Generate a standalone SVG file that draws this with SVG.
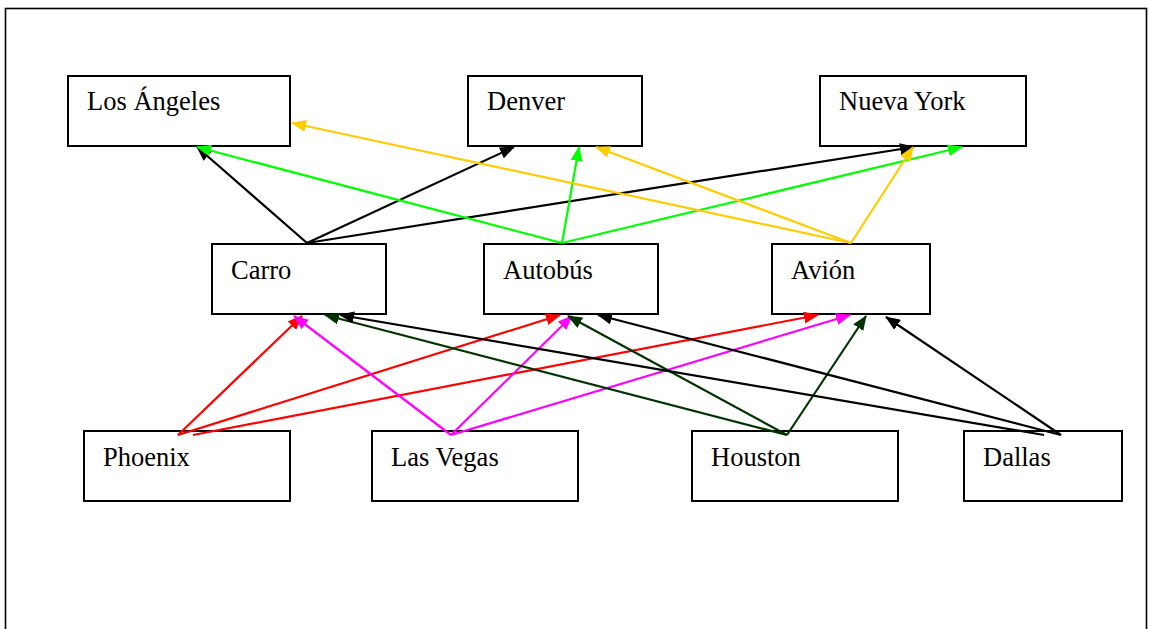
<svg xmlns="http://www.w3.org/2000/svg" width="1150" height="629" viewBox="0 0 1150 629">
<style>
.box{fill:#fff;stroke:#000;stroke-width:2}
.lbl{font-family:"Liberation Serif","Times New Roman",serif;font-size:26.5px;fill:#000}
.e{stroke-width:2.2;fill:none}
.k{stroke:#000}.g{stroke:#00ff00}.y{stroke:#ffcc00}.r{stroke:#ff0000}.m{stroke:#ff00ff}.d{stroke:#003300}
</style>
<defs>
<marker id="ak" markerUnits="userSpaceOnUse" viewBox="0 0 15 12" markerWidth="15" markerHeight="12" refX="14" refY="6" orient="auto"><path d="M0,0 L15,6 L0,12 z" fill="#000"/></marker>
<marker id="ag" markerUnits="userSpaceOnUse" viewBox="0 0 15 12" markerWidth="15" markerHeight="12" refX="14" refY="6" orient="auto"><path d="M0,0 L15,6 L0,12 z" fill="#00ff00"/></marker>
<marker id="ay" markerUnits="userSpaceOnUse" viewBox="0 0 15 12" markerWidth="15" markerHeight="12" refX="14" refY="6" orient="auto"><path d="M0,0 L15,6 L0,12 z" fill="#ffcc00"/></marker>
<marker id="ar" markerUnits="userSpaceOnUse" viewBox="0 0 15 12" markerWidth="15" markerHeight="12" refX="14" refY="6" orient="auto"><path d="M0,0 L15,6 L0,12 z" fill="#ff0000"/></marker>
<marker id="am" markerUnits="userSpaceOnUse" viewBox="0 0 15 12" markerWidth="15" markerHeight="12" refX="14" refY="6" orient="auto"><path d="M0,0 L15,6 L0,12 z" fill="#ff00ff"/></marker>
<marker id="ad" markerUnits="userSpaceOnUse" viewBox="0 0 15 12" markerWidth="15" markerHeight="12" refX="14" refY="6" orient="auto"><path d="M0,0 L15,6 L0,12 z" fill="#003300"/></marker>
</defs>
<rect width="1150" height="629" fill="#fff"/>
<rect x="5.5" y="8.5" width="1141" height="640" fill="none" stroke="#000" stroke-width="1.6"/>

<g id="los-angeles"><rect class="box" x="68" y="76" width="222" height="70"/><text class="lbl" x="87" y="110">Los Ángeles</text></g>
<g id="denver"><rect class="box" x="468" y="76" width="174" height="70"/><text class="lbl" x="487" y="110">Denver</text></g>
<g id="nueva-york"><rect class="box" x="820" y="76" width="206" height="70"/><text class="lbl" x="839" y="110">Nueva York</text></g>
<g id="carro"><rect class="box" x="212" y="244" width="174" height="70"/><text class="lbl" x="231" y="279">Carro</text></g>
<g id="autobus"><rect class="box" x="484" y="244" width="174" height="70"/><text class="lbl" x="503" y="279">Autobús</text></g>
<g id="avion"><rect class="box" x="772" y="244" width="158" height="70"/><text class="lbl" x="791" y="279">Avión</text></g>
<g id="phoenix"><rect class="box" x="84" y="431" width="206" height="70"/><text class="lbl" x="103" y="466">Phoenix</text></g>
<g id="las-vegas"><rect class="box" x="372" y="431" width="206" height="70"/><text class="lbl" x="391" y="466">Las Vegas</text></g>
<g id="houston"><rect class="box" x="692" y="431" width="206" height="70"/><text class="lbl" x="711" y="466">Houston</text></g>
<g id="dallas"><rect class="box" x="964" y="431" width="158" height="70"/><text class="lbl" x="983" y="466">Dallas</text></g>

<g id="connectors">
<line class="e k" x1="307" y1="243" x2="197" y2="147" marker-end="url(#ak)"/>
<line class="e k" x1="307" y1="243" x2="514" y2="147" marker-end="url(#ak)"/>
<line class="e k" x1="307" y1="243" x2="914" y2="147" marker-end="url(#ak)"/>
<line class="e g" x1="562" y1="243" x2="197" y2="147" marker-end="url(#ag)"/>
<line class="e g" x1="562" y1="243" x2="579" y2="147" marker-end="url(#ag)"/>
<line class="e g" x1="562" y1="243" x2="962" y2="147" marker-end="url(#ag)"/>
<line class="e y" x1="851" y1="243" x2="292" y2="123" marker-end="url(#ay)"/>
<line class="e y" x1="851" y1="243" x2="596" y2="147" marker-end="url(#ay)"/>
<line class="e y" x1="851" y1="243" x2="913" y2="147" marker-end="url(#ay)"/>
<line class="e r" x1="178" y1="435" x2="302" y2="316" marker-end="url(#ar)"/>
<line class="e r" x1="178" y1="435" x2="560" y2="315" marker-end="url(#ar)"/>
<line class="e r" x1="193" y1="435" x2="818" y2="315" marker-end="url(#ar)"/>
<line class="e m" x1="451" y1="435" x2="294" y2="316" marker-end="url(#am)"/>
<line class="e m" x1="451" y1="435" x2="572" y2="316" marker-end="url(#am)"/>
<line class="e m" x1="451" y1="435" x2="850" y2="315" marker-end="url(#am)"/>
<line class="e d" x1="787" y1="435" x2="325" y2="315" marker-end="url(#ad)"/>
<line class="e d" x1="787" y1="435" x2="568" y2="316" marker-end="url(#ad)"/>
<line class="e d" x1="787" y1="435" x2="866" y2="316" marker-end="url(#ad)"/>
<line class="e k" x1="1044" y1="435" x2="340" y2="315" marker-end="url(#ak)"/>
<line class="e k" x1="1061" y1="435" x2="598" y2="315" marker-end="url(#ak)"/>
<line class="e k" x1="1061" y1="435" x2="886" y2="317" marker-end="url(#ak)"/>
</g>
</svg>
